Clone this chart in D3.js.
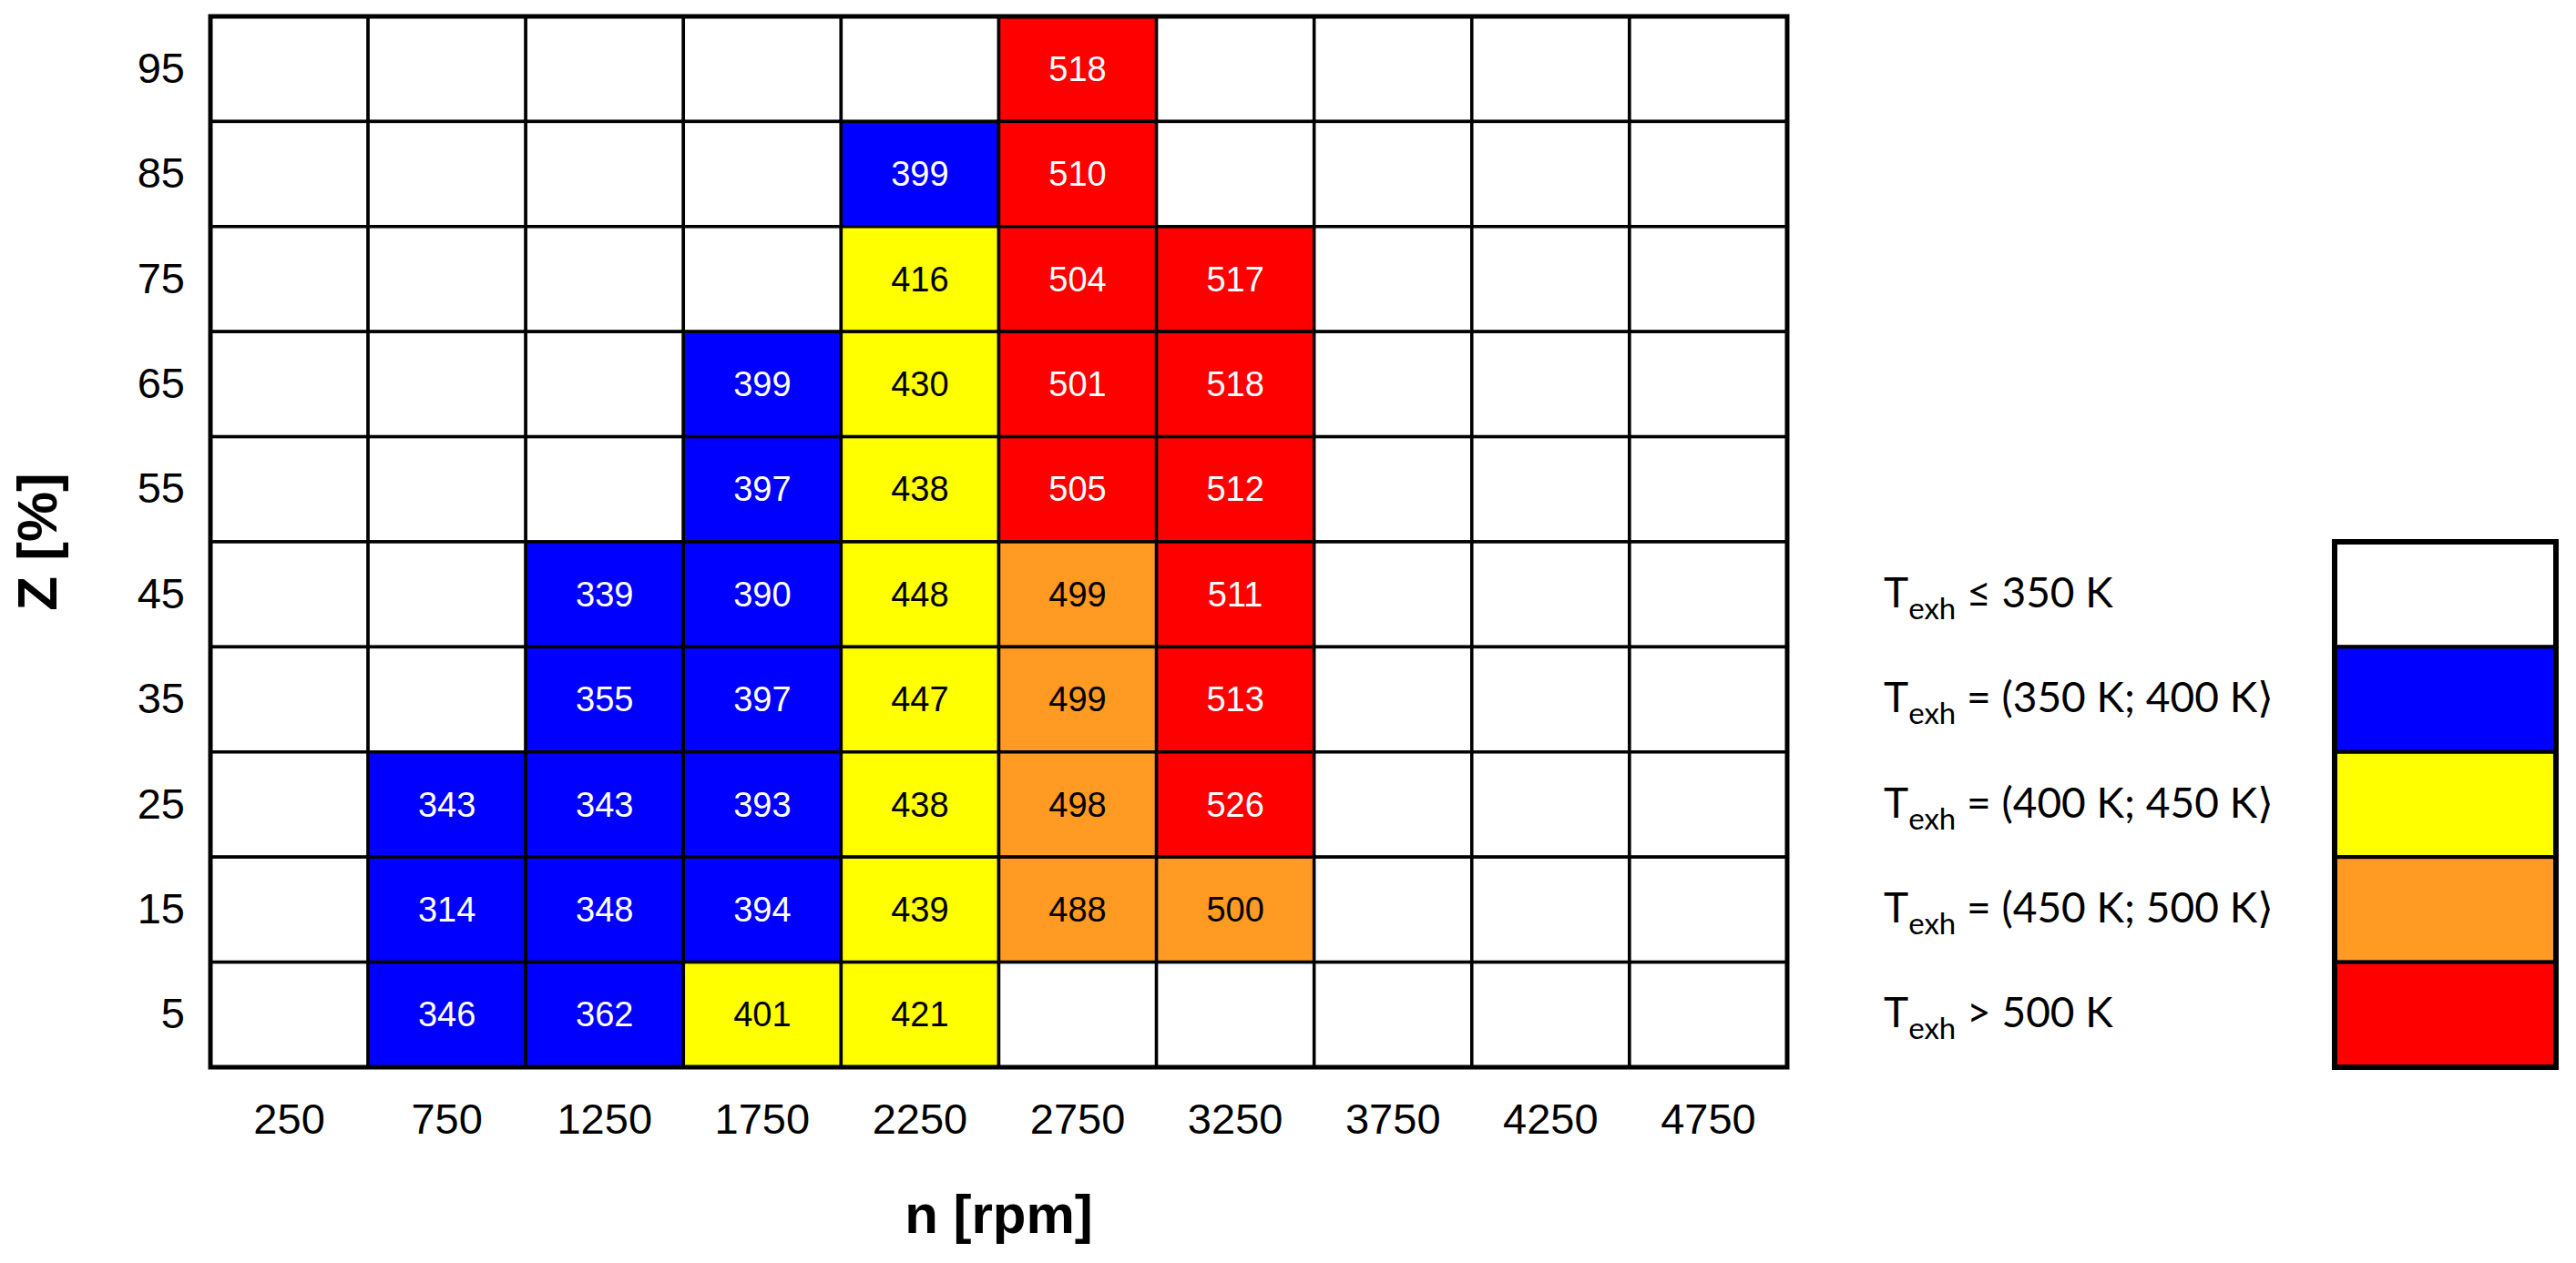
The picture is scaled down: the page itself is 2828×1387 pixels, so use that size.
<!DOCTYPE html>
<html><head><meta charset="utf-8">
<script src="https://cdn.jsdelivr.net/npm/d3@7"></script>
<style>body{margin:0;background:#fff}</style></head>
<body><svg id="c" width="2828" height="1387"></svg>
<script>
const nLabels = ["250","750","1250","1750","2250","2750","3250","3750","4250","4750"];
const zLabels = ["95","85","75","65","55","45","35","25","15","5"];
// values per row (top Z=95 to bottom Z=5), null = empty
const values = [
 [null,null,null,null,null,518,null,null,null,null],
 [null,null,null,null,399,510,null,null,null,null],
 [null,null,null,null,416,504,517,null,null,null],
 [null,null,null,399,430,501,518,null,null,null],
 [null,null,null,397,438,505,512,null,null,null],
 [null,null,339,390,448,499,511,null,null,null],
 [null,null,355,397,447,499,513,null,null,null],
 [null,343,343,393,438,498,526,null,null,null],
 [null,314,348,394,439,488,500,null,null,null],
 [null,346,362,401,421,null,null,null,null,null]
];
// colour class per cell as shown in the chart
const classes = [
 [0,0,0,0,0,4,0,0,0,0],
 [0,0,0,0,1,4,0,0,0,0],
 [0,0,0,0,2,4,4,0,0,0],
 [0,0,0,1,2,4,4,0,0,0],
 [0,0,0,1,2,4,4,0,0,0],
 [0,0,1,1,2,3,4,0,0,0],
 [0,0,1,1,2,3,4,0,0,0],
 [0,1,1,1,2,3,4,0,0,0],
 [0,1,1,1,2,3,3,0,0,0],
 [0,1,1,2,2,0,0,0,0,0]
];
const classColors = ["#ffffff","#0000ff","#ffff00","#ff9a22","#ff0000"];
const textColors = ["#000","#fff","#000","#000","#fff"];
const legendLabels = [
 ["≤ 350 K"],["= (350 K; 400 K⟩"],["= (400 K; 450 K⟩"],["= (450 K; 500 K⟩"],["> 500 K"]
];

const svg = d3.select("#c");
const L=231,R=1962,T=18,B=1172;
const x = d3.scaleBand().domain(nLabels).range([L,R]);
const y = d3.scaleBand().domain(zLabels).range([T,B]);
const cells=[];
values.forEach((row,i)=>row.forEach((v,j)=>cells.push({z:zLabels[i],n:nLabels[j],v,c:classes[i][j]})));
const g=svg.append("g");
g.selectAll("rect").data(cells).join("rect")
 .attr("x",d=>x(d.n)).attr("y",d=>y(d.z)).attr("width",x.bandwidth()).attr("height",y.bandwidth())
 .attr("fill",d=>classColors[d.c]).attr("stroke","#000").attr("stroke-width",3.5);
g.selectAll("text").data(cells.filter(d=>d.v!=null)).join("text")
 .attr("x",d=>x(d.n)+x.bandwidth()/2).attr("y",d=>y(d.z)+y.bandwidth()/2)
 .attr("text-anchor","middle").attr("dominant-baseline","central")
 .attr("font-family","Liberation Sans, Arial").attr("font-size",38)
 .attr("fill",d=>textColors[d.c]).text(d=>d.v);
svg.append("rect").attr("x",L).attr("y",T).attr("width",R-L).attr("height",B-T)
 .attr("fill","none").attr("stroke","#000").attr("stroke-width",5);

// axes
const xa=svg.append("g").attr("transform",`translate(0,${B})`).call(d3.axisBottom(x).tickSize(0).tickPadding(40));
const ya=svg.append("g").attr("transform",`translate(${L},0)`).call(d3.axisLeft(y).tickSize(0).tickPadding(28));
[xa,ya].forEach(a=>{a.select(".domain").remove();a.selectAll("text").attr("font-family","Liberation Sans, Arial").attr("font-size",47).attr("fill","#000");});
svg.append("text").attr("x",(L+R)/2).attr("y",1354).attr("text-anchor","middle")
 .attr("font-family","Liberation Sans, Arial").attr("font-weight","bold").attr("font-size",60).text("n [rpm]");
svg.append("text").attr("transform",`translate(62,${(T+B)/2}) rotate(-90)`).attr("text-anchor","middle")
 .attr("font-family","Liberation Sans, Arial").attr("font-weight","bold").attr("font-size",62).text("Z [%]");

// legend
const ly=d3.scaleBand().domain(d3.range(5)).range([595,1172]);
const lg=svg.append("g");
lg.selectAll("rect").data(d3.range(5)).join("rect")
 .attr("x",2563).attr("y",i=>ly(i)).attr("width",243).attr("height",ly.bandwidth())
 .attr("fill",i=>classColors[i]).attr("stroke","#000").attr("stroke-width",4);
lg.append("rect").attr("x",2563).attr("y",595).attr("width",243).attr("height",577).attr("fill","none").attr("stroke","#000").attr("stroke-width",6);
const lt=lg.selectAll("text").data(legendLabels).join("text")
 .attr("x",2068).attr("y",(d,i)=>ly(i)+ly.bandwidth()/2+14)
 .attr("font-family","Lato, Open Sans").attr("font-size",46).attr("fill","#000");
lt.append("tspan").text("T");
lt.append("tspan").attr("font-size",33).attr("dy",13).text("exh");
lt.append("tspan").attr("dy",-13).text(d=>" "+d[0]);
</script></body></html>
